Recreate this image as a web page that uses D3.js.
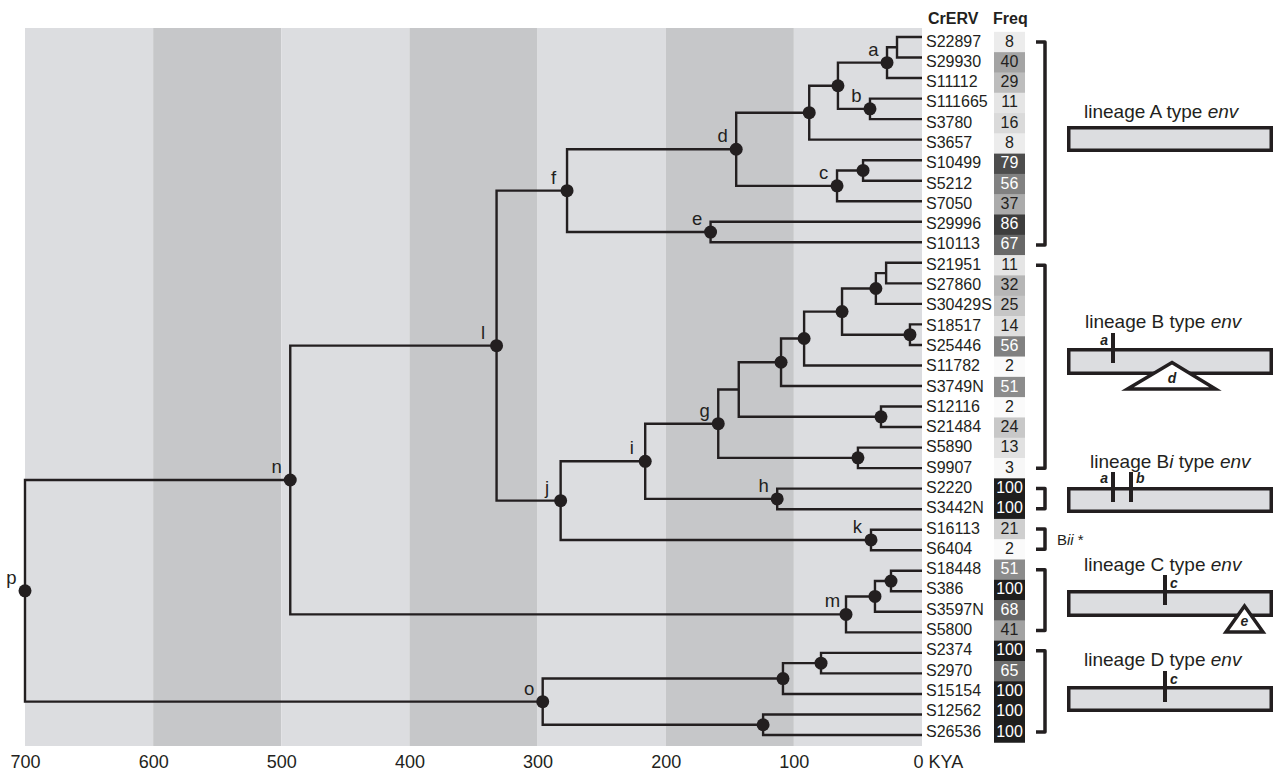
<!DOCTYPE html>
<html><head><meta charset="utf-8">
<script src="https://cdn.jsdelivr.net/npm/d3@7"></script>
<style>
body{margin:0;background:#fff}
text{font-family:"Liberation Sans",Arial,Helvetica,sans-serif;fill:#231f20}
</style></head><body>
<svg id="chart" width="1275" height="773"></svg>
<script>
// ---------------- DATA ----------------
const leaves = ["S22897","S29930","S11112","S111665","S3780","S3657","S10499","S5212","S7050","S29996","S10113",
  "S21951","S27860","S30429S","S18517","S25446","S11782","S3749N","S12116","S21484","S5890","S9907",
  "S2220","S3442N","S16113","S6404","S18448","S386","S3597N","S5800","S2374","S2970","S15154","S12562","S26536"];
const freq = [8,40,29,11,16,8,79,56,37,86,67, 11,32,25,14,56,2,51,2,24,13,3, 100,100,21,2,51,100,68,41,100,65,100,100,100];
const leafParent = ["a1","a1","a","b","b","d1","c1","c1","c","e","e",
  "g111111","g111111","g11111","g11112","g11112","g111","g11","g12","g12","g2","g2",
  "h","h","k","k","m11","m11","m1","m","o11","o11","o1","o2","o2"];
const nodeIds    = ["p","n","o","l","m","f","j","d","e","d1","d11","a","a1","b","c","c1","i","k","g","h","g1","g2","g11","g12","g111","g1111","g11111","g111111","g11112","m1","m11","o1","o11","o2"];
const nodeParent = [null,"p","p","n","n","l","l","f","f","d","d1","d11","a","d11","d","c","j","j","i","i","g","g","g1","g1","g11","g111","g1111","g11111","g1111","m","m1","o","o1","o"];
const nodeAge    = [700,493,296,332,59.3,277,282,145,165,88,65.6,27.3,19.5,40.6,66.3,46,216,39.8,159,113,143,50,110,32,92,62.4,36,28,9.4,36.7,24.2,108.5,78.8,124];
const nodeLabel  = ["p","n","o","l","m","f","j","d","e","","","a","","b","c","","i","k","g","h","","","","","","","","","","","","","",""];
const nodeDot    = [1,1,1,1,1,1,1,1,1,1,1,1,0,1,1,1,1,1,1,1,0,1,1,1,1,1,1,0,1,1,1,1,1,1];
const tickValues = [700,600,500,400,300,200,100,0];
const groupFirst = [0,11,22,24,26,30];
const groupLast  = [10,21,23,25,29,34];

// ---------------- SETUP ----------------
const svg = d3.select("#chart");
const ink = "#231f20";
const x = d3.scaleLinear().domain([700,0]).range([25,922]);
const yLine = d3.scaleLinear().domain([0,leaves.length-1]).range([37,735]);
const yBox = d3.scaleLinear().domain([0,leaves.length-1]).range([42,732]);
const boxH = (yBox(1)-yBox(0));
const gray = d3.scaleLinear().domain([0,100]).range([254,30]);

// background bands
svg.append("g").selectAll("rect").data(d3.range(tickValues.length-1)).join("rect")
  .attr("x", i => x(tickValues[i])).attr("width", i => x(tickValues[i+1]) - x(tickValues[i]))
  .attr("y", 28).attr("height", 746-28)
  .attr("fill", i => i%2 ? "#c6c7c9" : "#dcdde0");

// axis
const axis = d3.axisBottom(x).tickValues(tickValues).tickSize(0)
  .tickFormat(d => d === 0 ? "0 KYA" : d3.format("d")(d));
const ag = svg.append("g").attr("transform","translate(0,746)").call(axis);
ag.select(".domain").remove();
ag.selectAll("text").attr("y",22).attr("dy",null)
  .style("font-size","18px").style("font-family",'"Liberation Sans",Arial,sans-serif').attr("fill",ink)
  .filter(d => d === 0).attr("text-anchor","start").attr("x",-9);

// hierarchy
const table = nodeIds.map((id,i)=>({id, parent:nodeParent[i], age:nodeAge[i], label:nodeLabel[i], dot:nodeDot[i]}))
  .concat(leaves.map((id,i)=>({id, parent:leafParent[i], age:0, row:i, leaf:true})));
const root = d3.stratify().id(d=>d.id).parentId(d=>d.parent)(table);
root.eachAfter(n => {
  n.px = x(n.data.age);
  if (n.data.leaf) n.py = yLine(n.data.row);
  else { const ys = n.children.map(c=>c.py); n.py = (d3.min(ys)+d3.max(ys))/2; }
});
const internals = root.descendants().filter(n=>!n.data.leaf);

// branches
svg.append("g").selectAll("path").data(internals).join("path")
  .attr("d", n => {
    const cs = n.children.slice().sort((a,b)=>a.py-b.py);
    const f = cs[0], l = cs[cs.length-1];
    let s = `M${f.px},${f.py}H${n.px}V${l.py}H${l.px}`;
    cs.slice(1,-1).forEach(c => { s += `M${n.px},${c.py}H${c.px}`; });
    return s;
  })
  .attr("fill","none").attr("stroke",ink).attr("stroke-width",2.4).attr("stroke-linejoin","miter");

// node dots
svg.append("g").selectAll("circle").data(internals.filter(n=>n.data.dot)).join("circle")
  .attr("cx",n=>n.px).attr("cy",n=>n.py).attr("r",6.5).attr("fill",ink);

// node labels
svg.append("g").selectAll("text").data(internals.filter(n=>n.data.label)).join("text")
  .attr("x",n=>n.px-13.5).attr("y",n=>n.py-7).attr("text-anchor","middle")
  .style("font-size","18.5px").text(n=>n.data.label);

// headers
svg.append("text").attr("x",928).attr("y",23.5).style("font-size","16px").style("font-weight","bold").text("CrERV");
svg.append("text").attr("x",993).attr("y",23.5).style("font-size","16px").style("font-weight","bold").text("Freq");

// leaf labels
svg.append("g").selectAll("text").data(leaves).join("text")
  .attr("x",926).attr("y",(d,i)=>yBox(i)+4.5).style("font-size","16px").text(d=>d);

// freq cells
const fg = svg.append("g");
fg.selectAll("rect").data(freq).join("rect")
  .attr("x",994).attr("width",31).attr("y",(d,i)=>yBox(i)-boxH/2).attr("height",boxH+0.6)
  .attr("fill",d=>{const g=Math.round(gray(d)); return `rgb(${g},${g},${g})`;});
fg.selectAll("text").data(freq).join("text")
  .attr("x",1009.5).attr("y",(d,i)=>yBox(i)+4.5).attr("text-anchor","middle")
  .style("font-size","16px").style("fill",d=>d>=50?"#ffffff":ink).text(d=>d);

// group brackets
svg.append("g").selectAll("path").data(groupFirst).join("path")
  .attr("d",(d,i)=>`M1036,${yBox(d)}H1045V${yBox(groupLast[i])}H1036`)
  .attr("fill","none").attr("stroke",ink).attr("stroke-width",3.5).attr("stroke-linejoin","round");

// Bii label
const bii = svg.append("text").attr("x",1057).attr("y",545).style("font-size","15px");
bii.append("tspan").text("B");
bii.append("tspan").style("font-style","italic").text("ii");
bii.append("tspan").text(" *");

// env diagrams
function lineageLabel(xx, yy, pre, ital){
  const t = svg.append("text").attr("x",xx).attr("y",yy).style("font-size","19px");
  t.append("tspan").text("lineage " + pre);
  if (ital) t.append("tspan").style("font-style","italic").text(ital);
  t.append("tspan").text(" type ");
  t.append("tspan").style("font-style","italic").text("env");
}
function envBox(top, bottom){
  svg.append("rect").attr("x",1068.75).attr("y",top+1.75).attr("width",202.5).attr("height",bottom-top-3.5)
    .attr("fill","#dcdde0").attr("stroke",ink).attr("stroke-width",3.5);
}
function mark(xx, y1, y2){
  svg.append("rect").attr("x",xx-2).attr("y",y1).attr("width",4).attr("height",y2-y1).attr("fill",ink);
}
function markLabel(xx, yy, s, anchor){
  svg.append("text").attr("x",xx).attr("y",yy).attr("text-anchor",anchor||"start")
    .style("font-size","14px").style("font-weight","bold").style("font-style","italic").text(s);
}
function tri(ax, ay, lx, rx, by, s){
  svg.append("path").attr("d",`M${ax},${ay}L${rx},${by}L${lx},${by}Z`)
    .attr("fill","#ffffff").attr("stroke",ink).attr("stroke-width",3.5).attr("stroke-linejoin","miter");
  svg.append("text").attr("x",ax).attr("y",by-6).attr("text-anchor","middle")
    .style("font-size","14px").style("font-weight","bold").style("font-style","italic").text(s);
}
// A
lineageLabel(1084,118,"A");
envBox(126,152);
// B
lineageLabel(1085,328,"B");
envBox(348,375);
mark(1113,333,363); markLabel(1108,345,"a","end");
tri(1172,362.5,1127.5,1215.5,389,"d");
// Bi
lineageLabel(1090,468,"B","i");
envBox(487,513);
mark(1113,472,502); mark(1131,472,502);
markLabel(1108,483,"a","end"); markLabel(1136,483,"b");
// C
lineageLabel(1084,571,"C");
envBox(590,617);
mark(1165,575,605); markLabel(1170,588,"c");
tri(1244.5,606,1226,1263,632,"e");
// D
lineageLabel(1084,666,"D");
envBox(686,712);
mark(1165,671,702); markLabel(1170,684,"c");
</script>
</body></html>
